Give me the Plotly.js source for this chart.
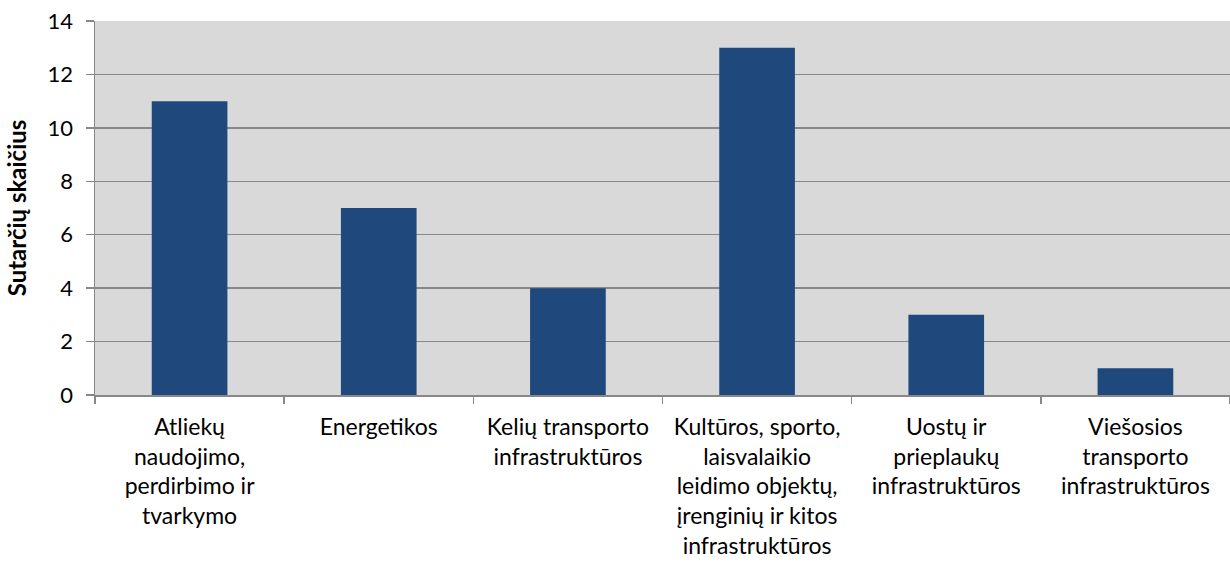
<!DOCTYPE html>
<html><head><meta charset="utf-8">
<script src="https://cdn.plot.ly/plotly-3.0.1.min.js"></script>
<style>html,body{margin:0;padding:0;background:#fff}</style>
</head><body>
<div id="chart" style="width:1230px;height:567px"></div>
<script>
const categories = [
  "Atliekų<br>naudojimo,<br>perdirbimo ir<br>tvarkymo",
  "Energetikos",
  "Kelių transporto<br>infrastruktūros",
  "Kultūros, sporto,<br>laisvalaikio<br>leidimo objektų,<br>įrenginių ir kitos<br>infrastruktūros",
  "Uostų ir<br>prieplaukų<br>infrastruktūros",
  "Viešosios<br>transporto<br>infrastruktūros"
];
const values = [11, 7, 4, 13, 3, 1];
const yTitle = "Sutarčių skaičius";

const font = "Lato, 'Open Sans', sans-serif";
Plotly.newPlot("chart", [{
  type: "bar",
  x: categories,
  y: values,
  marker: {color: "#1F497D", line: {width: 0}},
  width: 0.4,
  hoverinfo: "none"
}], {
  width: 1230, height: 567,
  margin: {l: 95, r: 0, t: 21, b: 172},
  paper_bgcolor: "#ffffff",
  plot_bgcolor: "#D9D9D9",
  font: {family: font, size: 23, color: "#000"},
  showlegend: false,
  xaxis: {
    type: "category",
    tickson: "boundaries",
    ticks: "outside", ticklen: 7, tickcolor: "#888", tickwidth: 1.5,
    showline: true, linecolor: "#888", linewidth: 2,
    showgrid: false,
    tickfont: {family: font, size: 23},
    ticklabelstandoff: 10,
    automargin: false
  },
  yaxis: {
    range: [0, 14], dtick: 2,
    ticks: "outside", ticklen: 8, tickcolor: "#888", tickwidth: 1.5,
    showline: true, linecolor: "#888", linewidth: 1.5,
    showgrid: true, gridcolor: "#888", gridwidth: 1.5,
    zeroline: false,
    tickfont: {family: font, size: 22},
    ticklabelstandoff: 8,
    title: {text: "<b>" + yTitle + "</b>", font: {family: font, size: 24}, standoff: 14},
    automargin: false
  }
}, {displayModeBar: false, staticPlot: true});
</script>
</body></html>
